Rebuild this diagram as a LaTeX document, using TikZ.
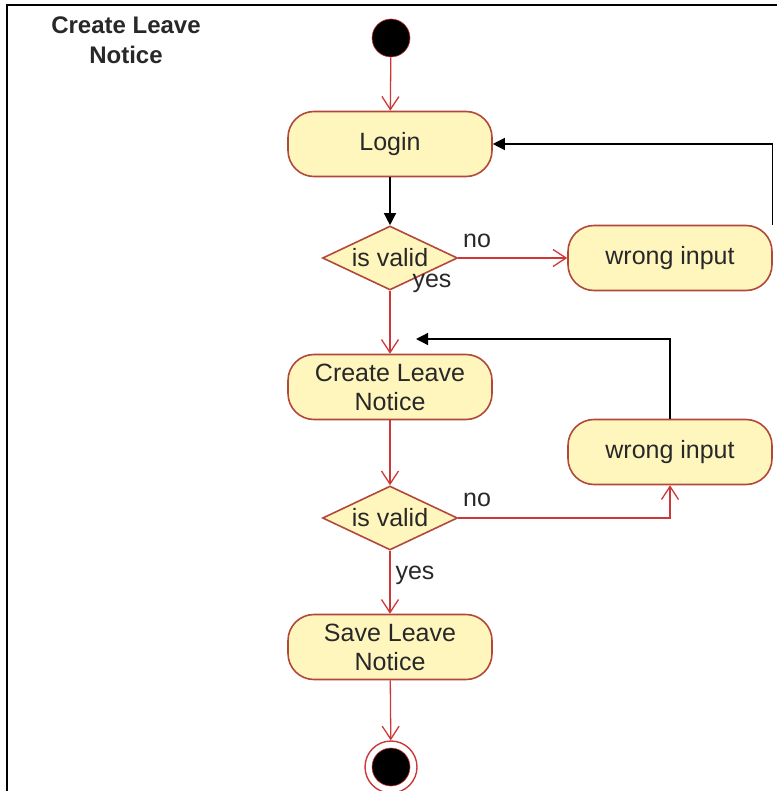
\documentclass[tikz,border=0pt]{standalone}
\usepackage{fontspec}
\setmainfont{Liberation Sans}
\usetikzlibrary{arrows.meta,shapes.geometric}
\definecolor{actfill}{RGB}{255,246,190}
\definecolor{actline}{RGB}{178,72,58}
\definecolor{flowred}{RGB}{205,55,55}
\definecolor{txt}{RGB}{40,40,40}
\tikzset{
  x=1pt, y=-1pt,
  every node/.style={font=\fontsize{25}{29}\selectfont, text=txt},
  activity/.style={rectangle, rounded corners=26pt, draw=actline, fill=actfill,
    line width=1.6pt, minimum width=204pt, minimum height=65pt, inner sep=2pt,
    align=center},
  decision/.style={diamond, draw=actline, fill=actfill, line width=1.6pt,
    minimum width=135pt, minimum height=64pt, inner sep=0pt},
  flow/.style={draw=flowred, line width=1.3pt, -{Straight Barb[length=13pt,width=17pt,line width=1.3pt]}},
  back/.style={draw=black, line width=1.3pt, -{Triangle[length=12pt,width=12pt]}},
  guard/.style={font=\fontsize{25}{29}\selectfont, inner sep=0pt}
}
\begin{document}
\begin{tikzpicture}
\useasboundingbox (0,0) rectangle (777,791);
% frame
\draw[line width=1.8pt] (7,791) -- (7,5) -- (777,5);
\node[font=\fontsize{24}{30}\bfseries\selectfont, align=center] (title) at (126,40) {Create Leave\\Notice};

% initial and final states
\node[circle, fill=black, draw=flowred, line width=0.6pt, minimum size=38pt, inner sep=0pt] (start) at (391,38) {};
\node[circle, fill=white, draw=flowred, line width=1.4pt, minimum size=52pt, inner sep=0pt] (finish) at (391,767) {};
\node[circle, fill=black, draw=flowred, line width=0.6pt, minimum size=38pt, inner sep=0pt] (finishdot) at (391,767) {};

% activities
\node[activity] (login) at (390,144) {Login};
\node[decision, label=center:{is valid}] (d1) at (390,258) {};
\node[activity] (w1) at (670,258) {wrong input};
\node[activity] (cln) at (390,387) {Create Leave\\Notice};
\node[activity] (w2) at (670,452) {wrong input};
\node[decision, label=center:{is valid}] (d2) at (390,518) {};
\node[activity] (save) at (390,647) {Save Leave\\Notice};

\coordinate (ret) at (416,339);

% flows
\draw[flow] (start) -- (login);
\draw[back] (login) -- (d1);
\draw[flow] (d1.east) -- (w1.west);
\draw[back] (w1.north east) |- (login.east);
\draw[flow] (d1.south) -- (cln.north);
\draw[flow] (cln) -- (d2);
\draw[flow] (d2.east) -| (w2.south);
\draw[back] (w2.north) |- (ret);
\draw[flow] (d2.south) -- (save.north);
\draw[flow] (save) -- (finish);

% guards
\node[guard] (no1) at (477,241) {no};
\node[guard] (yes1) at (432,283) {yes};
\node[guard] (no2) at (477,500) {no};
\node[guard] (yes2) at (415,575) {yes};
\end{tikzpicture}
\end{document}
